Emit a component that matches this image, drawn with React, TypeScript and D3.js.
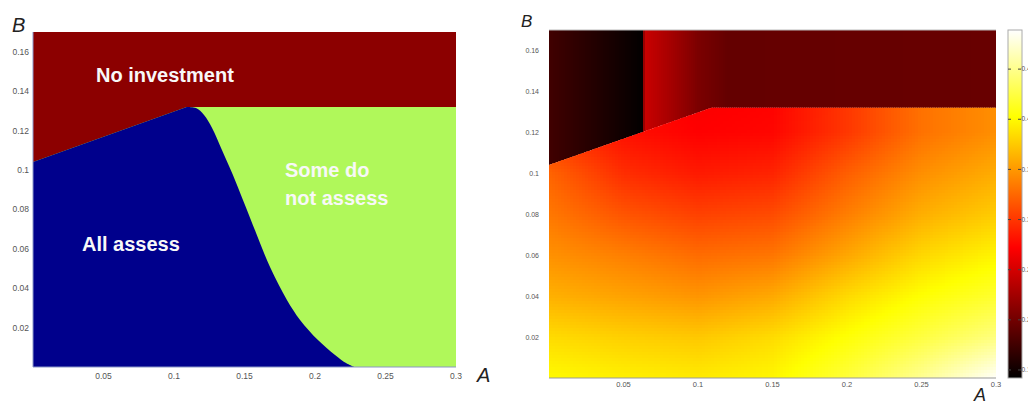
import React from "react";
import * as d3 from "d3";

// shared axis extents
const aMax = 0.3;
const bMax = 0.17;
const aTicks = [0.05, 0.1, 0.15, 0.2, 0.25, 0.3];
const bTicks = [0.02, 0.04, 0.06, 0.08, 0.1, 0.12, 0.14, 0.16];

// left: regime boundaries
const ceilingB = 0.132;
const slopeLine = [
  { a: 0, b: 0.104 },
  { a: 0.109, b: 0.132 },
];
const assessA = [0.109, 0.1156, 0.1213, 0.127, 0.134, 0.1418, 0.1489, 0.1582, 0.1681, 0.1801, 0.1894, 0.2021, 0.2142, 0.222, 0.2277];
const assessB = [0.132, 0.1314, 0.1279, 0.1213, 0.1101, 0.0974, 0.0847, 0.068, 0.0507, 0.034, 0.0239, 0.0137, 0.0061, 0.002, 0.0];

// right: heat values below the boundary (rows = gridB, cols = gridA)
const gridA = [0, 0.05, 0.1, 0.15, 0.2, 0.25, 0.3];
const gridB = [0, 0.02, 0.04, 0.06, 0.08, 0.1, 0.12, 0.135];
const heat = [
  [0.4, 0.395, 0.392, 0.398, 0.422, 0.452, 0.487],
  [0.384, 0.378, 0.374, 0.384, 0.404, 0.424, 0.445],
  [0.362, 0.355, 0.348, 0.358, 0.383, 0.403, 0.418],
  [0.346, 0.337, 0.327, 0.332, 0.357, 0.382, 0.397],
  [0.333, 0.315, 0.305, 0.31, 0.336, 0.361, 0.376],
  [0.323, 0.295, 0.285, 0.29, 0.32, 0.345, 0.36],
  [0.3, 0.28, 0.272, 0.275, 0.3, 0.33, 0.345],
  [0.29, 0.278, 0.27, 0.273, 0.3, 0.33, 0.345],
];
// right: heat values above the boundary (vary with A only)
const darkA = [0, 0.03, 0.063, 0.064, 0.08, 0.1, 0.12, 0.3];
const darkV = [0.175, 0.16, 0.143, 0.245, 0.228, 0.205, 0.193, 0.195];

// colour bar
const vMin = 0.142;
const vMax = 0.489;
const barTicks = [0.15, 0.2, 0.25, 0.3, 0.35, 0.4, 0.45];
const hotStops = [0, 0.375, 0.75, 1];
const hotColors = ["#000000", "#ff0000", "#ffff00", "#ffffff"];

const font = "Liberation Sans, Arial, Helvetica, sans-serif";

function lookup(a: number, b: number) {
  const i = Math.max(0, Math.min(gridA.length - 2, d3.bisectRight(gridA, a) - 1));
  const j = Math.max(0, Math.min(gridB.length - 2, d3.bisectRight(gridB, b) - 1));
  const ta = Math.max(0, Math.min(1, (a - gridA[i]) / (gridA[i + 1] - gridA[i])));
  const tb = Math.max(0, Math.min(1, (b - gridB[j]) / (gridB[j + 1] - gridB[j])));
  const top = heat[j + 1][i] * (1 - ta) + heat[j + 1][i + 1] * ta;
  const bot = heat[j][i] * (1 - ta) + heat[j][i + 1] * ta;
  return bot * (1 - tb) + top * tb;
}

export default function App() {
  const xL = d3.scaleLinear().domain([0, aMax]).range([33, 456]);
  const yL = d3.scaleLinear().domain([0, bMax]).range([367, 32]);
  const xR = d3.scaleLinear().domain([0, aMax]).range([549, 996]);
  const yR = d3.scaleLinear().domain([0, bMax]).range([378, 30]);
  const cbY = d3.scaleLinear().domain([vMin, vMax]).range([378, 30]);
  const hot = d3
    .scaleLinear<string>()
    .domain(hotStops.map((s) => vMin + s * (vMax - vMin)))
    .range(hotColors)
    .clamp(true);
  const darkScale = d3.scaleLinear().domain(darkA).range(darkV).clamp(true);

  // left panel shapes
  const lineL = d3.line<[number, number]>().x((d) => xL(d[0])).y((d) => yL(d[1]));
  const noInvest =
    lineL([
      [0, bMax],
      [aMax, bMax],
      [aMax, ceilingB],
      [slopeLine[1].a, slopeLine[1].b],
      [slopeLine[0].a, slopeLine[0].b],
    ]) + "Z";
  const curve = d3
    .line<number>()
    .x((d, i) => xL(assessA[i]))
    .y((d) => yL(d))
    .curve(d3.curveCatmullRom.alpha(0.5))(assessB) as string;
  const assess =
    `M${xL(0)},${yL(0)}L${xL(slopeLine[0].a)},${yL(slopeLine[0].b)}` +
    "L" + curve.slice(1) + "Z";

  // right panel clip regions
  const lineR = d3.line<[number, number]>().x((d) => xR(d[0])).y((d) => yR(d[1]));
  const lowerPoly =
    lineR([
      [0, 0],
      [slopeLine[0].a, slopeLine[0].b],
      [slopeLine[1].a, slopeLine[1].b],
      [aMax, ceilingB],
      [aMax, 0],
    ]) + "Z";
  const upperPoly =
    lineR([
      [slopeLine[0].a, slopeLine[0].b],
      [0, bMax],
      [aMax, bMax],
      [aMax, ceilingB],
      [slopeLine[1].a, slopeLine[1].b],
    ]) + "Z";

  const cell = 3;
  const lowerCells: JSX.Element[] = [];
  const yTop = Math.floor(yR(ceilingB + 0.002));
  for (let x = xR(0); x < xR(aMax); x += cell) {
    for (let y = yTop; y < yR(0); y += cell) {
      const v = lookup(xR.invert(x + cell / 2), yR.invert(y + cell / 2));
      lowerCells.push(
        <rect key={`${x}-${y}`} x={x} y={y} width={cell + 0.5} height={cell + 0.5} fill={hot(v)} />
      );
    }
  }
  const upperCells: JSX.Element[] = [];
  for (let x = xR(0); x < xR(aMax); x += 2) {
    upperCells.push(
      <rect key={x} x={x} y={yR(bMax)} width={2.5} height={yR(slopeLine[0].b - 0.003) - yR(bMax)}
        fill={hot(darkScale(xR.invert(x + 1)))} />
    );
  }

  const label = { fill: "#f8f8f8", fontFamily: font, fontWeight: 700, fontSize: 20 } as const;
  const tick = { fill: "#555", fontFamily: font } as const;

  return (
    <svg width={1028} height={401} style={{ position: "absolute", left: 0, top: 0, background: "#fff" }}>
      <defs>
        <clipPath id="lowerClip"><path d={lowerPoly} /></clipPath>
        <clipPath id="upperClip"><path d={upperPoly} /></clipPath>
        <linearGradient id="hotBar" x1="0" y1="1" x2="0" y2="0">
          {hotStops.map((s, i) => (
            <stop key={i} offset={s} stopColor={hotColors[i]} />
          ))}
        </linearGradient>
      </defs>

      {/* left panel */}
      <rect x={xL(0)} y={yL(bMax)} width={xL(aMax) - xL(0)} height={yL(0) - yL(bMax)} fill="#b0f85a" />
      <path d={noInvest} fill="#8c0000" />
      <path d={assess} fill="#00008c" />
      <line x1={xL(0)} x2={xL(aMax)} y1={yL(0)} y2={yL(0)} stroke="#8a96c8" />
      <line x1={xL(0)} x2={xL(0)} y1={yL(0)} y2={yL(bMax)} stroke="#8a96c8" />
      {aTicks.map((t) => (
        <text key={t} x={xL(t)} y={379} textAnchor="middle" fontSize={8.5} {...tick}>{t}</text>
      ))}
      {bTicks.map((t) => (
        <text key={t} x={29} y={yL(t) + 3} textAnchor="end" fontSize={8.5} {...tick}>{t}</text>
      ))}
      <text x={12} y={32} fontSize={20} fontStyle="italic" fontFamily={font} fill="#222">B</text>
      <text x={477} y={382} fontSize={20} fontStyle="italic" fontFamily={font} fill="#222">A</text>
      <text x={96} y={82} {...label}>No investment</text>
      <text x={82} y={251} {...label}>All assess</text>
      <text x={285} y={177} {...label}>Some do</text>
      <text x={285} y={205} {...label}>not assess</text>

      {/* right panel */}
      <g clipPath="url(#upperClip)" shapeRendering="crispEdges">{upperCells}</g>
      <g clipPath="url(#lowerClip)" shapeRendering="crispEdges">{lowerCells}</g>
      <line x1={xR(0)} x2={xR(aMax)} y1={yR(0)} y2={yR(0)} stroke="#999" />
      <line x1={xR(0)} x2={xR(aMax)} y1={yR(bMax)} y2={yR(bMax)} stroke="#bbb" />
      {aTicks.map((t) => (
        <text key={t} x={xR(t)} y={387} textAnchor="middle" fontSize={7.5} {...tick}>{t}</text>
      ))}
      {bTicks.map((t) => (
        <text key={t} x={539} y={yR(t) + 2.5} textAnchor="end" fontSize={7} {...tick}>{t}</text>
      ))}
      <text x={521} y={27} fontSize={17} fontStyle="italic" fontFamily={font} fill="#222">B</text>
      <text x={974} y={401} fontSize={18} fontStyle="italic" fontFamily={font} fill="#222">A</text>

      {/* colour bar (labels run past the right edge, as in the original) */}
      <rect x={1008} y={cbY(vMax)} width={14} height={cbY(vMin) - cbY(vMax)} fill="url(#hotBar)" stroke="#aaa" />
      {barTicks.map((t) => (
        <g key={t}>
          <line x1={1008} x2={1011} y1={cbY(t)} y2={cbY(t)} stroke="#444" />
          <line x1={1018} x2={1021} y1={cbY(t)} y2={cbY(t)} stroke="#444" />
          <text x={1021.5} y={cbY(t) + 2.2} fontSize={6.5} {...tick}>{t}</text>
        </g>
      ))}
    </svg>
  );
}
